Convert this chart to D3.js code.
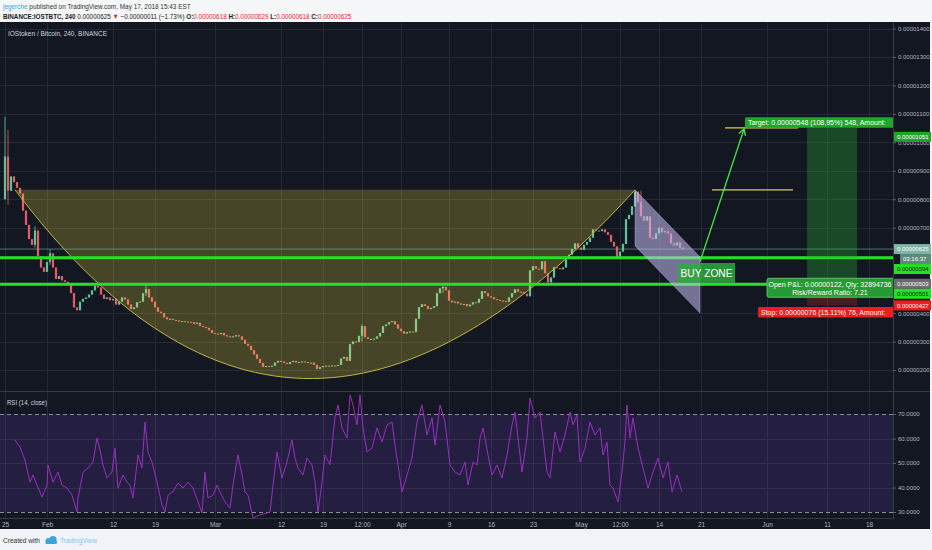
<!DOCTYPE html>
<html>
<head>
<meta charset="utf-8">
<script src="https://cdn.jsdelivr.net/npm/d3@7/dist/d3.min.js"></script>
<style>
  body { margin: 0; background: #f0f3f7; }
  svg { display: block; font-family: "Liberation Sans", Arial, sans-serif; }
  .axis text { fill: #b2b5be; }
  .axis .domain { display: none; }
  .axis line { stroke: #5d606b; }
</style>
</head>
<body>
<script>
// ---- data (prices in satoshi, 1e-8 BTC) ----
// closes every 12h starting 2018-01-25 00:00 UTC
var openPrice = 800;
var closes = [
  950, 830, 880, 860, 840, 820, 760, 710, 660, 640, 690, 600, 560, 545, 580, 610,
  560, 520, 530, 515, 510, 500, 470, 420, 410, 440, 450, 455, 465, 480, 495, 490,
  465, 450, 455, 445, 450, 430, 440, 455, 448, 430, 414, 420, 438, 440, 470, 484,
  455, 440, 420, 405, 400, 385, 378, 380, 376, 374, 372, 372, 370, 369, 368, 362,
  366, 355, 351, 348, 340, 330, 328, 326, 330, 322, 318, 316, 318, 322, 318, 306,
  292, 285, 270, 255, 239, 225, 211, 214, 213, 215, 226, 232, 230, 225, 221, 228,
  232, 227, 228, 230, 228, 226, 226, 218, 204, 210, 214, 215, 214, 216, 215, 218,
  240, 246, 232, 291, 300, 298, 320, 354, 315, 309, 309, 310, 318, 330, 354, 360,
  368, 372, 360, 345, 336, 328, 333, 335, 333, 380, 421, 431, 425, 414, 418, 424,
  470, 487, 492, 480, 444, 438, 440, 434, 430, 432, 424, 430, 438, 436, 450, 477,
  470, 459, 455, 449, 446, 444, 442, 440, 455, 470, 484, 475, 473, 468, 459, 550,
  565, 556, 554, 582, 540, 508, 525, 561, 558, 554, 560, 590, 605, 625, 645, 630,
  622, 640, 650, 665, 694, 690, 688, 694, 684, 675, 650, 634, 596, 616, 643, 730,
  745, 775, 827, 790, 740, 725, 740, 665, 660, 680, 700, 684, 688, 680, 645, 638,
  648, 630, 625
];
// [candle index, high, low] for the visible long wicks
var wicks = [[0, 1090, 800], [1, 1044, 780], [10, 705, 630], [15, 624, 570], [47, 500, 460], [119, 360, 300], [146, 495, 470], [212, 830, 780]];

// RSI(14) readings: [days since Jan 25, value]
var rsi = [
  [1.67, 59.4], [2.5, 56.5], [3.33, 51.2], [4.17, 42.2], [4.67, 45.1], [5.33, 41], [6.17, 36.1], [7, 41],
  [7.17, 49.2], [8, 42.2], [8.83, 46.3], [9.5, 41], [10.33, 39.8], [11.17, 36.9], [12, 30], [12.17, 35.7],
  [13, 46.3], [13.83, 48], [14.67, 50.4], [15.33, 60.2], [15.83, 55.3], [16.33, 49.2], [17, 43.9], [17.83, 46.3],
  [18.33, 56.1], [18.83, 39.8], [19.67, 45.1], [20.33, 42.2], [20.83, 41], [21.33, 35.7], [22.17, 53.3], [22.83, 48],
  [23.33, 66.7], [23.83, 54.5], [24.5, 50.4], [25.33, 42.2], [26.17, 32.9], [26.67, 30], [27.17, 36.9], [28, 38.2],
  [28.83, 41.8], [29.67, 39.8], [30.5, 42.2], [31.33, 39.8], [32.17, 34.1], [32.83, 29.6], [33.33, 46.3], [33.83, 35.7],
  [34.67, 36.9], [35.33, 41], [35.83, 38.2], [36.67, 34.1], [37.5, 31.6], [38, 41], [38.83, 53.3], [39.5, 45.1],
  [40, 38.2], [40.5, 36.9], [41.33, 27.6], [42.5, 28.8], [43.67, 29.6], [44.17, 30], [44.67, 41], [45.33, 54.5],
  [46.17, 43.9], [47, 50.4], [47.83, 59.4], [48.33, 52], [48.83, 48], [49.67, 45.1], [50.33, 52], [51.17, 49.2],
  [51.67, 42.2], [52.17, 30], [52.83, 42.2], [53.33, 53.3], [54.17, 49.2], [55, 68.8], [55.5, 73.7], [56.17, 64.3],
  [57, 60.2], [57.5, 77.8], [58, 73.7], [58.67, 65.5], [59.17, 77.8], [59.67, 64.3], [60.33, 54.5], [61.17, 56.1],
  [62, 64.3], [62.83, 58.6], [63.67, 65.5], [64.5, 66.7], [65, 57.3], [65.5, 49.2], [66.17, 38.2], [67, 45.1],
  [67.83, 52], [68.67, 66.7], [69.5, 73.7], [70.33, 61.4], [71.17, 68.4], [71.67, 57.3], [72.5, 73.7], [73.33, 66.7],
  [74.17, 49.2], [75, 46.3], [75.83, 45.1], [76.67, 50.4], [77.17, 41], [78, 50.4], [78.67, 49.2], [79.17, 60.2],
  [79.67, 64.3], [80.5, 53.3], [81.17, 45.1], [82, 49.2], [82.83, 43.9], [83.67, 53.3], [84.5, 65.5], [85, 70.8],
  [85.5, 60.2], [86.17, 46.3], [87, 60.2], [87.5, 76.5], [88.33, 68.4], [89.17, 70.8], [89.67, 60.2], [90.33, 46.3],
  [90.83, 43.9], [91.67, 62.7], [92.5, 54.5], [93.33, 61.4], [94.17, 70.8], [94.67, 65.5], [95.33, 69.6], [95.83, 50.4],
  [96.67, 56.1], [97.5, 66.7], [98.33, 61.4], [99.17, 64.3], [99.67, 53.3], [100.33, 58.6], [100.83, 41], [101.33, 39.8],
  [102.17, 34.1], [102.83, 46.3], [103.33, 58.6], [103.67, 73.7], [104.17, 60.2], [104.67, 68.4], [105.5, 56.1], [106.33, 48],
  [107.17, 39.8], [108, 46.3], [108.83, 52], [109.67, 43.9], [110.5, 50.4], [111.17, 38.2], [112, 45.1], [112.83, 38.2]
];

var priceTicks = [200, 300, 400, 700, 800, 900, 1000, 1100, 1200, 1300, 1400];
var rsiTicks = [30, 40, 50, 60, 70];
var timeTicks = ['2018-01-25', '2018-02-01', '2018-02-12', '2018-02-19', '2018-03-01', '2018-03-12', '2018-03-19',
  '2018-03-25T12:00', '2018-04-01', '2018-04-09', '2018-04-16', '2018-04-23', '2018-05-01', '2018-05-07T12:00',
  '2018-05-14', '2018-05-21', '2018-06-01', '2018-06-11', '2018-06-18'];
var timeLabels = ['25', 'Feb', '12', '19', 'Mar', '12', '19', '12:00', 'Apr', '9', '16', '23', 'May', '12:00',
  '14', '21', 'Jun', '11', '18'];

// drawings: [days since Jan 25, price]
var cup = [[1.67, 833], [35.83, -123], [70, 24], [105, 833]];   // start, control 1, control 2, end
var supportLevels = [594, 501];
var lastPrice = 625;
var channel = [[105, 833], [115.83, 597], [115.83, 400], [105, 636]];
var buyZone = [[112.17, 576], [121.67, 506]];
var arrow = [[115.83, 580], [123.17, 1047]];
var targetLines = [[120, 132.17, 1051], [117.83, 131.33, 833]];
var entry = 503, target = 1051, stop = 427;
var positionSpan = [133.67, 142];
var axisMarks = [1051, 625, 594, 503, 501, 427];

// ---- layout ----
var paneRight = 893, mainTop = 23, mainBottom = 391, rsiTop = 392, rsiBottom = 518;
var t0 = Date.UTC(2018, 0, 25);
function day(d) { return new Date(t0 + d * 864e5); }

var x = d3.scaleUtc().domain([day(0), new Date(Date.UTC(2018, 5, 18))]).range([5, 869]);
var y = d3.scaleLinear().domain([200, 1400]).range([370, 28.5]);
var r = d3.scaleLinear().domain([30, 70]).range([512, 414]);
function px(d) { return x(day(d)); }

var svg = d3.select('body').append('svg').attr('width', 932).attr('height', 550);
var defs = svg.append('defs');
defs.append('clipPath').attr('id', 'mainClip').append('rect')
  .attr('x', 0).attr('y', mainTop).attr('width', paneRight).attr('height', mainBottom - mainTop);
defs.append('clipPath').attr('id', 'rsiClip').append('rect')
  .attr('x', 0).attr('y', rsiTop).attr('width', paneRight).attr('height', rsiBottom - rsiTop);
defs.append('marker').attr('id', 'arrowhead').attr('viewBox', '-8 -5 10 10')
  .attr('refX', 0).attr('refY', 0).attr('markerWidth', 10).attr('markerHeight', 10)
  .attr('markerUnits', 'userSpaceOnUse').attr('orient', 'auto')
  .append('path').attr('d', 'M-6,-3.5L0,0L-6,3.5').attr('fill', 'none')
  .attr('stroke', '#3fe83f').attr('stroke-width', 1.4);

// backgrounds
svg.append('rect').attr('width', 932).attr('height', 550).attr('fill', '#f0f3f7');
svg.append('rect').attr('width', 932).attr('height', 22).attr('fill', '#f6f7f9');
svg.append('rect').attr('x', 0).attr('y', 22).attr('width', 930).attr('height', 507).attr('fill', '#131722');

// header: one text per line, squeezed to the reference width with a group scale
function headerLine(xPos, yPos, width, parts) {
  var g = svg.append('g');
  var t = g.append('text').attr('x', 0).attr('y', 0).style('font-size', '7.5px');
  parts.forEach(function(s) {
    t.append('tspan').attr('fill', s[1]).style('font-weight', s[2] || 'normal').text(s[0]);
  });
  var natural = t.node().getComputedTextLength();
  g.attr('transform', 'translate(' + xPos + ',' + yPos + ') scale(' + (width / natural) + ',1)');
}
headerLine(3, 9, 188, [['jegerche', '#3f9fdc'], [' published on TradingView.com, May 17, 2018 15:43 EST', '#333']]);
headerLine(3, 18.5, 349, [['BINANCE:IOSTBTC, 240 ', '#131722', 'bold'], ['0.00000625 ', '#131722'], ['\u25BC ', '#e3262b'],
 ['\u22120.00000011 (\u22121.73%) ', '#131722'], ['O:', '#131722', 'bold'], ['0.00000618 ', '#e3262b'],
 ['H:', '#131722', 'bold'], ['0.00000629 ', '#e3262b'], ['L:', '#131722', 'bold'], ['0.00000618 ', '#e3262b'],
 ['C:', '#131722', 'bold'], ['0.00000625', '#e3262b']]);

// grid
var grid = svg.append('g').attr('stroke', '#252935').attr('stroke-width', 1);
grid.selectAll('.hg').data(y.ticks(12)).enter().append('line')
  .attr('x1', 0).attr('x2', paneRight)
  .attr('y1', function(d) { return Math.round(y(d)) + 0.5; })
  .attr('y2', function(d) { return Math.round(y(d)) + 0.5; });
grid.selectAll('.rg').data([40, 50, 60]).enter().append('line')
  .attr('x1', 0).attr('x2', paneRight)
  .attr('y1', function(d) { return Math.round(r(d)) + 0.5; })
  .attr('y2', function(d) { return Math.round(r(d)) + 0.5; });
var tickDates = timeTicks.map(function(s) { return new Date(s + (s.length > 10 ? ':00Z' : 'T00:00:00Z')); });
grid.selectAll('.vg').data(tickDates).enter().append('line')
  .attr('x1', function(d) { return Math.round(x(d)) + 0.5; })
  .attr('x2', function(d) { return Math.round(x(d)) + 0.5; })
  .attr('y1', mainTop).attr('y2', rsiBottom);

// ---- main pane ----
var main = svg.append('g').attr('clip-path', 'url(#mainClip)');

var candles = closes.map(function(c, i) {
  var o = i ? closes[i - 1] : openPrice;
  var hi = Math.max(o, c), lo = Math.min(o, c);
  wicks.forEach(function(w) { if (w[0] === i) { hi = w[1]; lo = w[2]; } });
  return { t: day(i * 0.5), o: o, c: c, h: hi, l: lo };
});
var upColor = '#5fc495', downColor = '#e35d68';
main.selectAll('.wick').data(candles).enter().append('line')
  .attr('x1', function(d) { return x(d.t); }).attr('x2', function(d) { return x(d.t); })
  .attr('y1', function(d) { return y(d.h); }).attr('y2', function(d) { return y(d.l); })
  .attr('stroke', function(d) { return d.c >= d.o ? upColor : downColor; }).attr('stroke-width', 0.8);
main.selectAll('.bar').data(candles).enter().append('rect')
  .attr('x', function(d) { return x(d.t) - 1.1; }).attr('width', 2.2)
  .attr('y', function(d) { return y(Math.max(d.o, d.c)); })
  .attr('height', function(d) { return Math.max(1, Math.abs(y(d.o) - y(d.c))); })
  .attr('fill', function(d) { return d.c >= d.o ? upColor : downColor; });

// cup
function cupPath(close) {
  var p = d3.path();
  p.moveTo(px(cup[0][0]), y(cup[0][1]));
  p.bezierCurveTo(px(cup[1][0]), y(cup[1][1]), px(cup[2][0]), y(cup[2][1]), px(cup[3][0]), y(cup[3][1]));
  if (close) p.closePath();
  return p.toString();
}
main.append('path').attr('d', cupPath(true)).attr('fill', 'rgba(255,235,59,0.22)');
main.append('path').attr('d', cupPath(false)).attr('fill', 'none').attr('stroke', '#bdb843').attr('stroke-width', 1);

// last price line
main.append('line').attr('x1', 0).attr('x2', paneRight)
  .attr('y1', y(lastPrice)).attr('y2', y(lastPrice))
  .attr('stroke', 'rgba(120,190,165,0.55)').attr('stroke-width', 1);

// support lines
main.selectAll('.support').data(supportLevels).enter().append('line')
  .attr('x1', 0).attr('x2', paneRight)
  .attr('y1', function(d) { return y(d); }).attr('y2', function(d) { return y(d); })
  .attr('stroke', '#1ee51e').attr('stroke-width', 3);

// falling channel
main.append('path')
  .attr('d', d3.line().x(function(d) { return px(d[0]); }).y(function(d) { return y(d[1]); })(channel) + 'Z')
  .attr('fill', 'rgba(200,190,245,0.55)').attr('stroke', 'rgba(210,200,250,0.6)').attr('stroke-width', 0.6);

// position tool zones
main.append('rect').attr('x', px(positionSpan[0])).attr('width', px(positionSpan[1]) - px(positionSpan[0]))
  .attr('y', y(target)).attr('height', y(entry) - y(target)).attr('fill', 'rgba(40,180,50,0.32)');
main.append('rect').attr('x', px(positionSpan[0])).attr('width', px(positionSpan[1]) - px(positionSpan[0]))
  .attr('y', y(entry)).attr('height', y(stop) - y(entry)).attr('fill', 'rgba(220,40,40,0.28)');

// buy zone
main.append('rect').attr('x', px(buyZone[0][0])).attr('y', y(buyZone[0][1]))
  .attr('width', px(buyZone[1][0]) - px(buyZone[0][0])).attr('height', y(buyZone[1][1]) - y(buyZone[0][1]))
  .attr('fill', 'rgba(45,170,60,0.85)');
main.append('text').attr('x', (px(buyZone[0][0]) + px(buyZone[1][0])) / 2)
  .attr('y', (y(buyZone[0][1]) + y(buyZone[1][1])) / 2 + 4)
  .attr('text-anchor', 'middle').attr('fill', '#fff').style('font-size', '11px')
  .attr('textLength', 52).attr('lengthAdjust', 'spacingAndGlyphs').text('BUY ZONE');

// target lines
main.selectAll('.tline').data(targetLines).enter().append('line')
  .attr('x1', function(d) { return px(d[0]); }).attr('x2', function(d) { return px(d[1]); })
  .attr('y1', function(d) { return y(d[2]); }).attr('y2', function(d) { return y(d[2]); })
  .attr('stroke', '#d6d23c').attr('stroke-width', 1.2);

// arrow
main.append('line').attr('x1', px(arrow[0][0])).attr('y1', y(arrow[0][1]))
  .attr('x2', px(arrow[1][0])).attr('y2', y(arrow[1][1]))
  .attr('stroke', '#3fe83f').attr('stroke-width', 1.3).attr('marker-end', 'url(#arrowhead)');

// position labels
var tx = px(123.33);
main.append('rect').attr('x', tx).attr('y', y(target) - 10.5).attr('width', 200).attr('height', 10.5)
  .attr('rx', 1.5).attr('fill', '#1fa62a');
main.append('text').attr('x', tx + 3).attr('y', y(target) - 2.8).attr('fill', '#fff').style('font-size', '7px')
  .text('Target: 0.00000548 (108.95%) 548, Amount: ');

var plx = px(127);
main.append('rect').attr('x', plx).attr('y', y(entry) - 5.5).attr('width', 140).attr('height', 19)
  .attr('rx', 2).attr('fill', '#259c31').attr('stroke', '#6bd473').attr('stroke-width', 0.8);
main.append('text').attr('x', plx + 63).attr('y', y(entry) + 3).attr('text-anchor', 'middle')
  .attr('fill', '#fff').style('font-size', '7px').text('Open P&L: 0.00000122, Qty: 32894736');
main.append('text').attr('x', plx + 63).attr('y', y(entry) + 11).attr('text-anchor', 'middle')
  .attr('fill', '#fff').style('font-size', '7px').text('Risk/Reward Ratio: 7.21');

var sx = px(125.5);
main.append('rect').attr('x', sx).attr('y', y(stop) + 1.5).attr('width', 200).attr('height', 10.5)
  .attr('rx', 1.5).attr('fill', '#ee1c1c');
main.append('text').attr('x', sx + 3).attr('y', y(stop) + 9.5).attr('fill', '#fff').style('font-size', '7px')
  .text('Stop: 0.00000076 (15.11%) 76, Amount: ');

// ---- RSI pane ----
var rsiG = svg.append('g').attr('clip-path', 'url(#rsiClip)');
rsiG.append('rect').attr('x', 0).attr('width', paneRight).attr('y', r(70)).attr('height', r(30) - r(70))
  .attr('fill', 'rgba(126,70,220,0.17)');
rsiG.selectAll('.band').data([30, 70]).enter().append('line')
  .attr('x1', 0).attr('x2', paneRight)
  .attr('y1', function(d) { return Math.round(r(d)) + 0.5; }).attr('y2', function(d) { return Math.round(r(d)) + 0.5; })
  .attr('stroke', '#8a8d98').attr('stroke-dasharray', '4,3');
rsiG.append('path').datum(rsi)
  .attr('d', d3.line().x(function(d) { return px(d[0]); }).y(function(d) { return r(d[1]); }))
  .attr('fill', 'none').attr('stroke', '#9a2fc0').attr('stroke-width', 1);

// pane borders
var borders = svg.append('g').attr('stroke', '#363a45').attr('stroke-width', 1);
borders.append('line').attr('x1', 0).attr('x2', 930).attr('y1', 391.5).attr('y2', 391.5);
borders.append('line').attr('x1', 0).attr('x2', paneRight).attr('y1', 518.5).attr('y2', 518.5);
borders.append('line').attr('x1', paneRight + 0.5).attr('x2', paneRight + 0.5).attr('y1', 22).attr('y2', 519);

// titles
svg.append('text').attr('x', 8).attr('y', 36).attr('fill', '#d1d4dc').style('font-size', '7px')
  .attr('textLength', 99).attr('lengthAdjust', 'spacingAndGlyphs').text('IOStoken / Bitcoin, 240, BINANCE');
svg.append('text').attr('x', 7).attr('y', 404.5).attr('fill', '#d1d4dc').style('font-size', '7px')
  .attr('textLength', 40).attr('lengthAdjust', 'spacingAndGlyphs').text('RSI (14, close)');

// ---- axes ----
var fmtPrice = function(v) { return (v / 1e8).toFixed(8); };
svg.append('g').attr('class', 'axis').attr('transform', 'translate(' + paneRight + ',0)')
  .call(d3.axisRight(y).tickValues(priceTicks).tickFormat(fmtPrice).tickSize(3).tickPadding(2))
  .selectAll('text').style('font-size', '6px');
svg.append('g').attr('class', 'axis').attr('transform', 'translate(' + paneRight + ',0)')
  .call(d3.axisRight(r).tickValues(rsiTicks).tickFormat(function(v) { return v.toFixed(4); }).tickSize(3).tickPadding(2))
  .selectAll('text').style('font-size', '6px');
svg.append('g').attr('class', 'axis').attr('transform', 'translate(0,' + (rsiBottom + 1) + ')')
  .call(d3.axisBottom(x).tickValues(tickDates).tickFormat(function(d, i) { return timeLabels[i]; }).tickSize(0).tickPadding(3))
  .selectAll('text').style('font-size', '6.5px');

// price-axis labels, pushed apart like the platform does
var markFill = ['#1fa62a', '#7fb3a3', '#22e322', '#6b6b6b', '#22e322', '#ee1c1c'];
var markText = ['#fff', '#fff', '#0b2b0b', '#fff', '#0b2b0b', '#fff'];
var marks = axisMarks.map(function(v, i) {
  return { v: v, y: y(v) + (i === 0 ? 9 : 0), fill: markFill[i], color: markText[i], timer: v === lastPrice };
}).sort(function(a, b) { return a.y - b.y; });
var last = -Infinity;
marks.forEach(function(m) {
  if (m.y < last + 10) m.y = last + 10;
  last = m.y + (m.timer ? 10 : 0);
});
var ml = svg.append('g');
marks.forEach(function(m) {
  ml.append('rect').attr('x', paneRight + 1).attr('y', m.y - 5).attr('width', 37).attr('height', 10).attr('fill', m.fill);
  ml.append('text').attr('x', paneRight + 4).attr('y', m.y + 2.2).attr('fill', m.color).style('font-size', '6px')
    .text(fmtPrice(m.v));
  if (m.timer) {
    ml.append('rect').attr('x', paneRight + 7).attr('y', m.y + 5).attr('width', 31).attr('height', 10).attr('fill', '#5d8a7c');
    ml.append('text').attr('x', paneRight + 10).attr('y', m.y + 12.2).attr('fill', '#fff').style('font-size', '6px')
      .text('03:16:37');
  }
});

// footer
svg.append('text').attr('x', 3).attr('y', 543).attr('fill', '#333').style('font-size', '7.5px')
  .attr('textLength', 37).attr('lengthAdjust', 'spacingAndGlyphs').text('Created with');
var logo = svg.append('g').attr('fill', '#3da3d8');
logo.append('circle').attr('cx', 48.5).attr('cy', 541).attr('r', 3);
logo.append('circle').attr('cx', 53).attr('cy', 539.5).attr('r', 3.6);
logo.append('rect').attr('x', 45.5).attr('y', 540.5).attr('width', 11.5).attr('height', 3.5).attr('rx', 1.5);
svg.append('text').attr('x', 60).attr('y', 543).attr('fill', '#86c6ea').style('font-size', '7.5px')
  .attr('textLength', 37).attr('lengthAdjust', 'spacingAndGlyphs').text('TradingView');
</script>
</body>
</html>
